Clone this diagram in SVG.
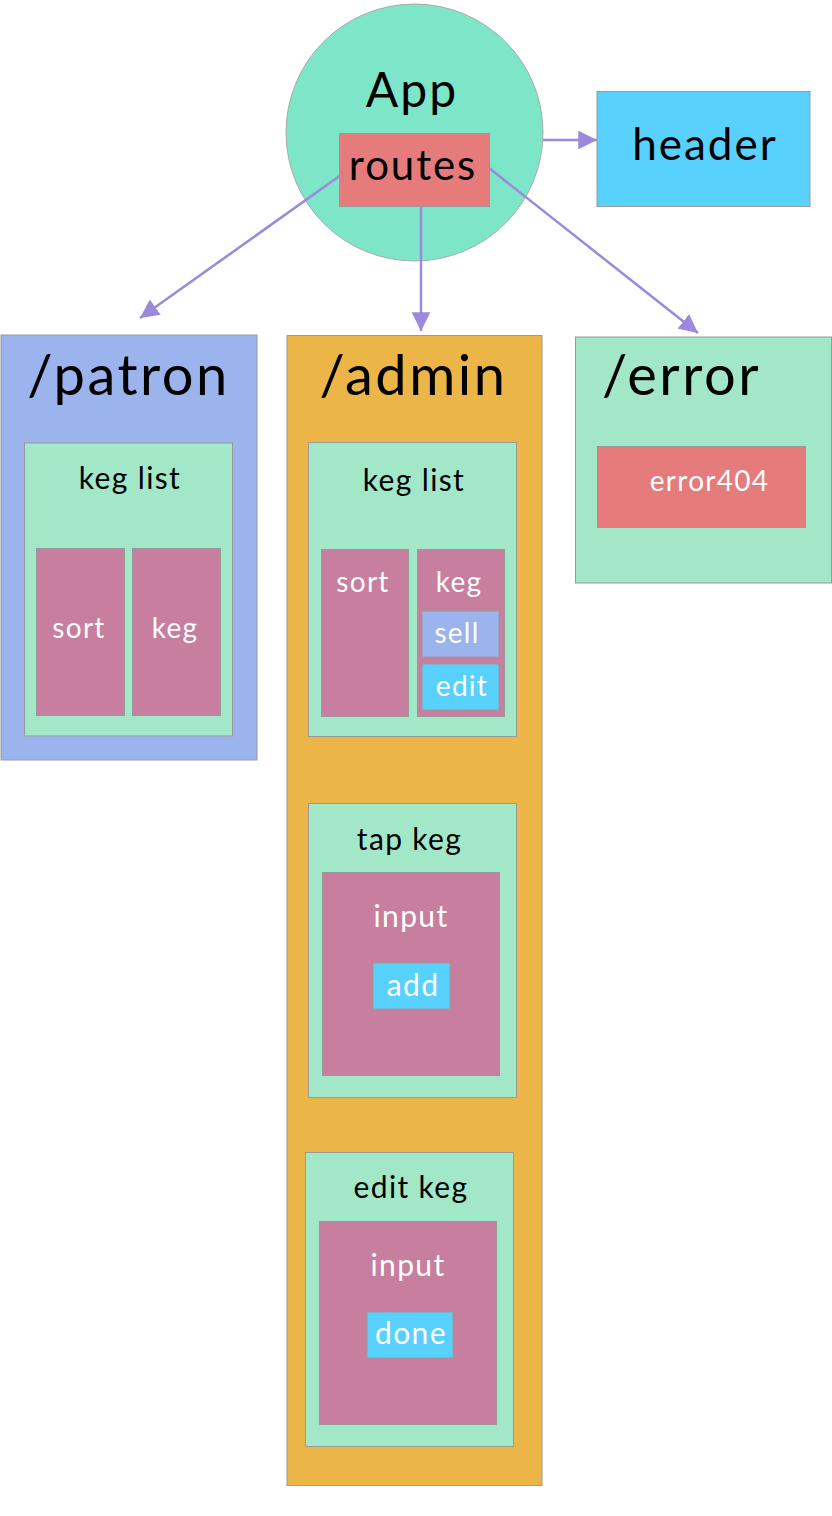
<svg xmlns="http://www.w3.org/2000/svg" width="832" height="1516" viewBox="0 0 832 1516">
  <style>
    .box { stroke: #999; stroke-width: 1; }
    .mint { fill: #A3E7C9; }
    .pink { fill: #C87E9E; }
    .blue { fill: #58D1FF; }
    .lav { fill: #9BB4EE; }
    .salmon { fill: #E57B7B; }
    .orange { fill: #ECB548; }
    text { font-family: "Lato", "Liberation Sans", sans-serif; text-anchor: middle; letter-spacing: 0.045em; }
    .dark { fill: #000; }
    .light { fill: #fff; }
    .edge { stroke: #9B89DD; stroke-width: 2.5; fill: none; marker-end: url(#tip); }
  </style>
  <defs>
    <marker id="tip" viewBox="0 0 10 10" refX="10" refY="5" markerWidth="7.5" markerHeight="7.5" markerUnits="strokeWidth" orient="auto">
      <path d="M0,0 L10,5 L0,10 z" fill="#9B89DD"/>
    </marker>
  </defs>

  <rect width="832" height="1516" fill="#fff"/>

  <!-- app root -->
  <g id="app">
    <circle cx="414.5" cy="132.5" r="128.5" fill="#7DE6C8" stroke="#aaa" stroke-width="1"/>
    <text class="dark" x="412" y="107" font-size="48">App</text>
  </g>

  <!-- connectors -->
  <g id="connectors">
    <line class="edge" x1="543" y1="140" x2="597" y2="140"/>
    <line class="edge" x1="348" y1="170" x2="140" y2="318"/>
    <line class="edge" x1="421" y1="206" x2="421" y2="331"/>
    <line class="edge" x1="489" y1="168" x2="698" y2="333"/>
  </g>

  <g id="routes">
    <rect class="box salmon" x="339.5" y="133.5" width="150" height="73"/>
    <text class="dark" x="413" y="180" font-size="42">routes</text>
  </g>

  <g id="header">
    <rect class="box blue" x="597" y="91.5" width="213" height="115"/>
    <text class="dark" x="705" y="160" font-size="44">header</text>
  </g>

  <!-- /patron route -->
  <g id="patron">
    <rect class="box lav" x="1" y="335" width="256" height="425"/>
    <text class="dark" x="128.5" y="395" font-size="56">/patron</text>
    <g id="patron-keg-list">
      <rect class="box mint" x="24.5" y="443" width="208" height="293"/>
      <text class="dark" x="130" y="489" font-size="30">keg list</text>
      <rect class="box pink" x="36.5" y="548.5" width="88" height="167"/>
      <text class="light" x="79" y="638" font-size="28">sort</text>
      <rect class="box pink" x="132.5" y="548.5" width="88" height="167"/>
      <text class="light" x="175" y="638" font-size="28">keg</text>
    </g>
  </g>

  <!-- /admin route -->
  <g id="admin">
    <rect class="box orange" x="287" y="335.5" width="255" height="1150"/>
    <text class="dark" x="413.5" y="395" font-size="56">/admin</text>
    <g id="admin-keg-list">
      <rect class="box mint" x="308.5" y="442.5" width="208" height="294"/>
      <text class="dark" x="414" y="491" font-size="30">keg list</text>
      <rect class="box pink" x="321.5" y="549.5" width="87" height="167"/>
      <text class="light" x="363" y="592" font-size="28">sort</text>
      <rect class="box pink" x="417.5" y="549.5" width="87" height="167"/>
      <text class="light" x="459" y="592" font-size="28">keg</text>
      <rect class="box lav" x="422" y="611" width="77" height="46"/>
      <text class="light" x="457" y="643" font-size="28">sell</text>
      <rect class="box blue" x="422" y="664" width="77" height="46"/>
      <text class="light" x="462" y="696" font-size="28">edit</text>
    </g>
    <g id="tap-keg">
      <rect class="box mint" x="308.5" y="803.5" width="208" height="294"/>
      <text class="dark" x="409.5" y="850" font-size="30">tap keg</text>
      <rect class="box pink" x="322.5" y="872.5" width="177" height="203"/>
      <text class="light" x="411" y="927" font-size="30">input</text>
      <rect class="box blue" x="373" y="963" width="77" height="46"/>
      <text class="light" x="413" y="996" font-size="30">add</text>
    </g>
    <g id="edit-keg">
      <rect class="box mint" x="305.5" y="1152.5" width="208" height="294"/>
      <text class="dark" x="411" y="1198" font-size="30">edit keg</text>
      <rect class="box pink" x="319.5" y="1221.5" width="177" height="203"/>
      <text class="light" x="408" y="1276" font-size="30">input</text>
      <rect class="box blue" x="367" y="1312" width="86" height="46"/>
      <text class="light" x="411" y="1344" font-size="30">done</text>
    </g>
  </g>

  <!-- /error route -->
  <g id="error">
    <rect class="box mint" x="575.5" y="337" width="256" height="246"/>
    <text class="dark" x="681.5" y="395" font-size="56">/error</text>
    <g id="error404">
      <rect class="box salmon" x="597.5" y="446.5" width="208" height="81"/>
      <text class="light" x="709.5" y="491" font-size="28">error404</text>
    </g>
  </g>
</svg>
